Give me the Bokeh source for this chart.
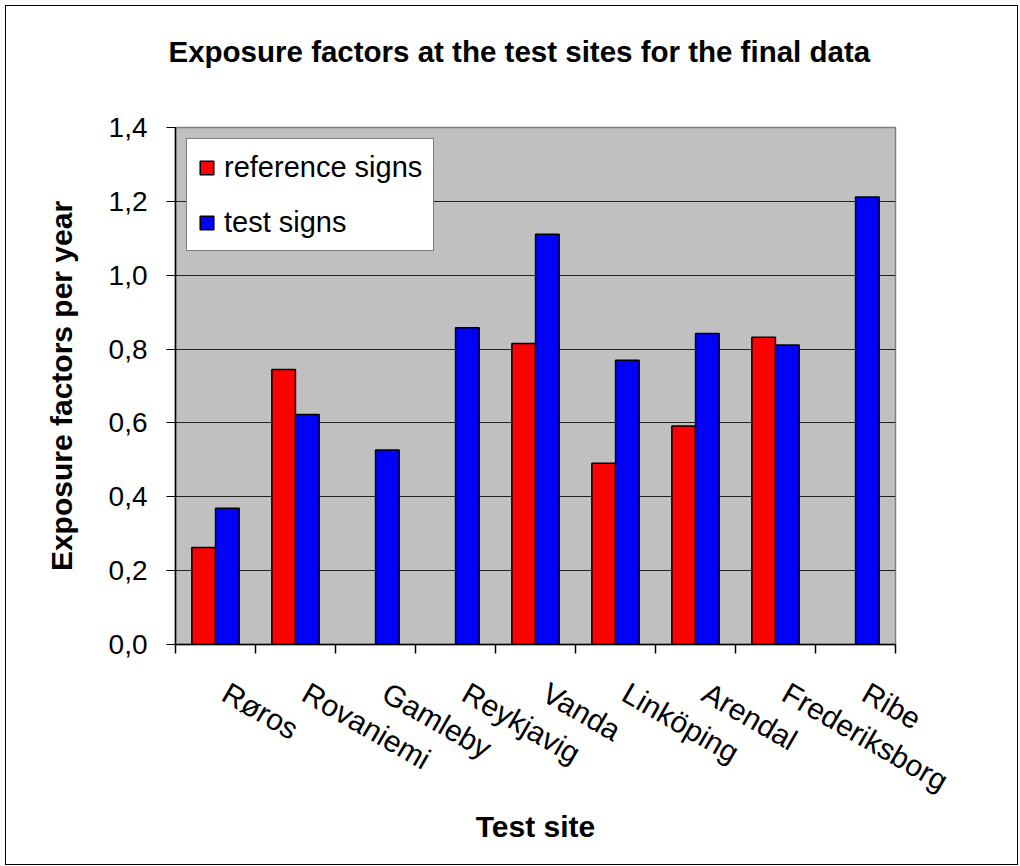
import math
from bokeh.plotting import figure
from bokeh.models import (ColumnDataSource, FixedTicker, CustomJSTickFormatter,
                          Legend, LegendItem, Range1d, Title)
from bokeh.embed import file_html
from bokeh.resources import INLINE

# ---- data ----
sites = ["Røros", "Rovaniemi", "Gamleby", "Reykjavig", "Vanda",
         "Linköping", "Arendal", "Frederiksborg", "Ribe"]
reference_signs = [0.263, 0.745, None, None, 0.815, 0.491, 0.592, 0.832, None]
test_signs = [0.369, 0.623, 0.527, 0.858, 1.111, 0.770, 0.842, 0.811, 1.212]
y_ticks = [0.0, 0.2, 0.4, 0.6, 0.8, 1.0, 1.2, 1.4]

title_text = "Exposure factors at the test sites for the final data"
x_title = "Test site"
y_title = "Exposure factors per year"
series_names = ["reference signs", "test signs"]

FONT = "Liberation Sans"
BAR_W = 0.295
DODGE = 0.148
LABEL_SHIFT = 0.12  # rotated labels start a little right of the category centre

n = len(sites)
ref_x = [i + 0.5 - DODGE for i, v in enumerate(reference_signs) if v is not None]
ref_top = [v for v in reference_signs if v is not None]
test_x = [i + 0.5 + DODGE for i, v in enumerate(test_signs) if v is not None]
test_top = [v for v in test_signs if v is not None]

src_ref = ColumnDataSource(dict(x=ref_x, top=ref_top))
src_test = ColumnDataSource(dict(x=test_x, top=test_top))

p = figure(width=1011, height=858, output_backend="svg", toolbar_location=None,
           x_range=Range1d(0, n), y_range=Range1d(y_ticks[0], y_ticks[-1]),
           frame_width=720, frame_height=517,
           min_border_left=169, min_border_right=122,
           min_border_top=121, min_border_bottom=220)

p.background_fill_color = "#C0C0C0"
p.border_fill_color = "white"
p.outline_line_color = "#808080"
p.outline_line_width = 1.5
p.styles = {"border": "1px solid black", "margin-left": "5px", "margin-top": "5px"}

r_ref = p.vbar(x="x", top="top", width=BAR_W, bottom=0, source=src_ref,
               fill_color="#FF0000", line_color="black", line_width=1.5)
r_test = p.vbar(x="x", top="top", width=BAR_W, bottom=0, source=src_test,
                fill_color="#0000FF", line_color="black", line_width=1.5)

# title (with an empty spacer panel between it and the plot area)
p.title.text = title_text
p.title.text_font = FONT
p.title.text_font_size = "29.5px"
p.title.text_font_style = "bold"
p.title.text_color = "black"
p.title.align = "left"
p.title.offset = -7
p.title.standoff = 0
p.add_layout(Title(text=" ", text_font_size="1px", standoff=57), "above")

# y axis
yax = p.yaxis[0]
yax.ticker = FixedTicker(ticks=y_ticks, minor_ticks=[])
yax.formatter = CustomJSTickFormatter(code="return tick.toFixed(1).replace('.', ',');")
yax.major_label_text_font = FONT
yax.major_label_text_font_size = "28px"
yax.major_label_text_color = "black"
yax.major_tick_out = 9
yax.major_tick_in = 0
yax.minor_tick_out = 0
yax.minor_tick_in = 0
yax.major_label_standoff = 19
yax.axis_line_color = "black"
yax.axis_line_width = 1.5
yax.major_tick_line_color = "black"
yax.axis_label = y_title
yax.axis_label_text_font = FONT
yax.axis_label_text_font_size = "30px"
yax.axis_label_text_font_style = "bold"
yax.axis_label_text_color = "black"
yax.axis_label_standoff = 28

# x axis: labels near centres, ticks at boundaries
xax = p.xaxis[0]
xax.ticker = FixedTicker(ticks=[i + 0.5 + LABEL_SHIFT for i in range(n)],
                         minor_ticks=[i for i in range(n + 1)])
xax.formatter = CustomJSTickFormatter(args=dict(labels=sites),
                                      code="return labels[Math.floor(tick)];")
xax.major_label_orientation = -math.radians(30)
xax.major_label_text_font = FONT
xax.major_label_text_font_size = "30px"
xax.major_label_text_color = "black"
xax.major_tick_out = 0
xax.major_tick_in = 0
xax.minor_tick_out = 9
xax.minor_tick_in = 0
xax.minor_tick_line_color = "black"
xax.minor_tick_line_width = 1.5
xax.major_label_standoff = 37
xax.axis_line_color = "black"
xax.axis_line_width = 1.5
xax.axis_label = x_title
xax.axis_label_text_font = FONT
xax.axis_label_text_font_size = "30px"
xax.axis_label_text_font_style = "bold"
xax.axis_label_text_color = "black"
xax.axis_label_standoff = -5

# grid
p.xgrid.grid_line_color = None
p.ygrid.ticker = FixedTicker(ticks=y_ticks)
p.ygrid.grid_line_color = "#202020"
p.ygrid.grid_line_width = 1.2

legend = Legend(items=[LegendItem(label=series_names[0], renderers=[r_ref]),
                       LegendItem(label=series_names[1], renderers=[r_test])],
                location="top_left", margin=11, padding=11,
                glyph_width=17, glyph_height=17, label_standoff=9,
                label_height=34, spacing=21,
                label_text_font=FONT, label_text_font_size="29px",
                label_text_color="black",
                border_line_color="black", border_line_width=1.5,
                background_fill_color="white", background_fill_alpha=1.0)
p.add_layout(legend)

open("out.html", "w").write(file_html(p, INLINE))
